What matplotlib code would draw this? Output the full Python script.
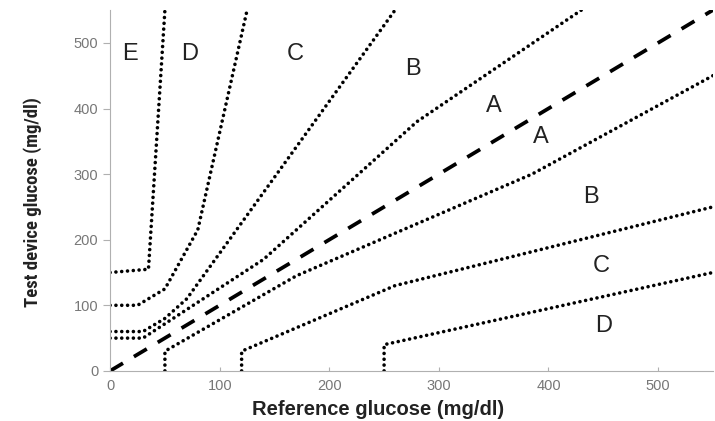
import matplotlib
matplotlib.use("Agg")
import matplotlib.pyplot as plt

# Parkes error grid (type 1) zone boundaries, (reference, test device) in mg/dl
a_upper_x = [0, 30, 140, 280, 430]
a_upper_y = [50, 50, 170, 380, 550]
a_lower_x = [50, 50, 170, 385, 550]
a_lower_y = [0, 30, 145, 300, 450]
b_upper_x = [0, 30, 50, 70, 260]
b_upper_y = [60, 60, 80, 110, 550]
b_lower_x = [120, 120, 260, 550]
b_lower_y = [0, 30, 130, 250]
c_upper_x = [0, 25, 50, 80, 125]
c_upper_y = [100, 100, 125, 215, 550]
c_lower_x = [250, 250, 550]
c_lower_y = [0, 40, 150]
d_upper_x = [0, 35, 50]
d_upper_y = [150, 155, 550]
ident = [0, 550]

zone_labels = ["E", "D", "C", "B", "A", "A", "B", "C", "D"]
label_x = [18, 73, 169, 276, 350, 393, 439, 448, 450]
label_y = [483, 483, 483, 460, 404, 356, 265, 160, 69]

ticks = [0, 100, 200, 300, 400, 500]

fig = plt.figure(figsize=(7.15, 4.21), dpi=100)
ax = fig.add_axes([0.154, 0.119, 0.843, 0.857])

dot = dict(color='black', linestyle=(0, (0.01, 1.6)), linewidth=2.6,
           dash_capstyle='round', solid_capstyle='round')
for xs, ys in [(a_upper_x, a_upper_y), (a_lower_x, a_lower_y),
               (b_upper_x, b_upper_y), (b_lower_x, b_lower_y),
               (c_upper_x, c_upper_y), (c_lower_x, c_lower_y),
               (d_upper_x, d_upper_y)]:
    ax.plot(xs, ys, **dot)

ax.plot(ident, ident, color='black', linewidth=2.7, linestyle=(0, (4.0, 3.4)))

for lab, lx, ly in zip(zone_labels, label_x, label_y):
    ax.text(lx, ly, lab, fontsize=17, ha='center', va='center',
            family='Liberation Sans', color='#222222')

ax.set_xlim(0, 550)
ax.set_ylim(0, 550)
ax.set_xticks(ticks)
ax.set_yticks(ticks)
for s in ['top', 'right']:
    ax.spines[s].set_visible(False)
for s in ['left', 'bottom']:
    ax.spines[s].set_color('#b0b0b0')
ax.tick_params(axis='both', colors='#b0b0b0', labelcolor='#777777',
               labelsize=10.5, length=5)
ax.tick_params(axis='x', direction='in', length=3, pad=6)
for t in ax.get_xticklabels() + ax.get_yticklabels():
    t.set_family('Liberation Sans')

ax.set_xlabel('Reference glucose (mg/dl)', fontsize=14.5, fontweight='bold',
              family='Liberation Sans', color='#222222', va='center')
ax.xaxis.set_label_coords(0.444, -0.108)
ax.set_ylabel('Test device glucose (mg/dl)', fontsize=13.5, fontweight='bold',
              family='Roboto Condensed', color='#222222', va='center')
ax.yaxis.set_label_coords(-0.129, 0.468)

fig.savefig('out.png', dpi=100)
